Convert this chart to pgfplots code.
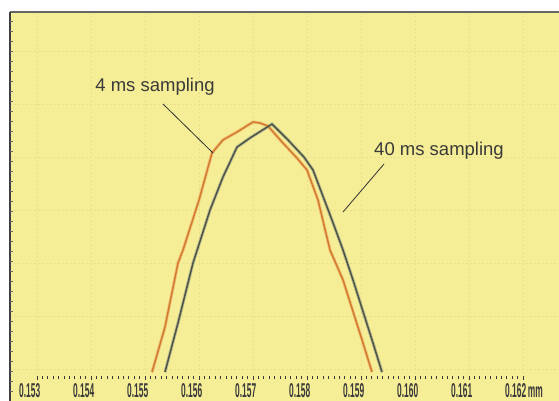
\documentclass[border=0pt]{standalone}
\usepackage{pgfplots}
\pgfplotsset{compat=1.18}
\usepackage{pgfplotstable}
\usepackage{fontspec}
\setmainfont{Liberation Sans}
\definecolor{paper}{HTML}{F6EE96}
\definecolor{gridc}{HTML}{E8DF92}
\definecolor{orangeline}{HTML}{D47A2C}
\definecolor{orangehalo}{HTML}{EFC57A}
\definecolor{grayline}{HTML}{4B5548}
\definecolor{grayhalo}{HTML}{C2BE8E}
\definecolor{txt}{HTML}{3A3A3A}
\newcommand\sq[1]{\scalebox{0.42}[1]{\fontsize{20}{20}\selectfont\bfseries #1}}

% 4 ms sampling (x in mm, y normalised)
\pgfplotstableread{
x y
0.155130 0.023
0.155370 0.199
0.155611 0.449
0.155704 0.500
0.156000 0.695
0.156241 0.879
0.156444 0.930
0.156704 0.961
0.157000 1.000
0.157130 0.996
0.157278 0.984
0.157537 0.922
0.157815 0.859
0.158000 0.8125
0.158204 0.695
0.158426 0.500
0.158667 0.383
0.159037 0.137
0.159204 0.023
}\fourms

% 40 ms sampling
\pgfplotstableread{
x y
0.155370 0.023
0.155611 0.215
0.155889 0.449
0.156204 0.656
0.156444 0.785
0.156704 0.902
0.156944 0.9375
0.157352 0.992
0.157648 0.930
0.157944 0.863
0.158111 0.8125
0.158463 0.617
0.158667 0.500
0.158852 0.383
0.159222 0.137
0.159389 0.023
}\fortyms

\begin{document}
\begin{tikzpicture}[x=1pt,y=1pt]
\useasboundingbox (0,0) rectangle (559,401);
\fill[paper] (10,0) rectangle (559,389);
\begin{axis}[
    at={(10pt,23pt)}, anchor=south west,
    scale only axis, width=549pt, height=366pt,
    xmin=0.1525, xmax=0.162667, ymin=0, ymax=1.4297,
    axis line style={draw=none},
    xtick={0.153,0.154,0.155,0.156,0.157,0.158,0.159,0.160,0.161,0.162},
    xticklabels={\sq{0.153},\sq{0.154},\sq{0.155},\sq{0.156},\sq{0.157},\sq{0.158},\sq{0.159},\sq{0.160},\sq{0.161},\sq{0.162}\,\sq{mm}},
    minor x tick num=9,
    xtick pos=bottom, tick align=center,
    major tick length=4pt, minor tick length=3pt,
    x tick style={txt, line width=0.9pt},
    xticklabel style={anchor=north west, inner sep=0pt, xshift=-18pt, yshift=-3pt, text=txt},
    ytick={0.035,0.242,0.449,0.656,0.863,1.070,1.277},
    yticklabels={},
    ytick pos=left, y tick style={draw=none},
    grid=major,
    major grid style={gridc, line width=0.5pt, dash pattern=on 2pt off 2pt},
    clip=false,
]
\addplot[orangehalo, line width=3.2pt, no markers, forget plot] table {\fourms};
\addplot[grayhalo, line width=3.2pt, no markers, forget plot] table {\fortyms};
\addplot[orangeline, line width=1.5pt, no markers, line join=round] table {\fourms};
\addplot[grayline, line width=1.5pt, no markers, line join=round] table {\fortyms};
\end{axis}
% frame of the scanned plot
\draw[gray!80!black, line width=1.6pt] (10,389) -- (559,389);
\draw[black!75, line width=1.2pt] (10,0) -- (10,389);
\foreach \yy in {10,20,...,380} \draw[black!60, line width=0.8pt] (10,\yy) -- (13,\yy);
% annotations
\node[text=txt, font=\fontsize{18.5}{20}\selectfont] at (155,314) {4 ms sampling};
\draw[black!80, line width=0.8pt] (163,297) -- (213,248);
\node[text=txt, font=\fontsize{18.5}{20}\selectfont] at (439,250) {40 ms sampling};
\draw[black!80, line width=0.8pt] (384,237) -- (343,189);
\end{tikzpicture}
\end{document}
